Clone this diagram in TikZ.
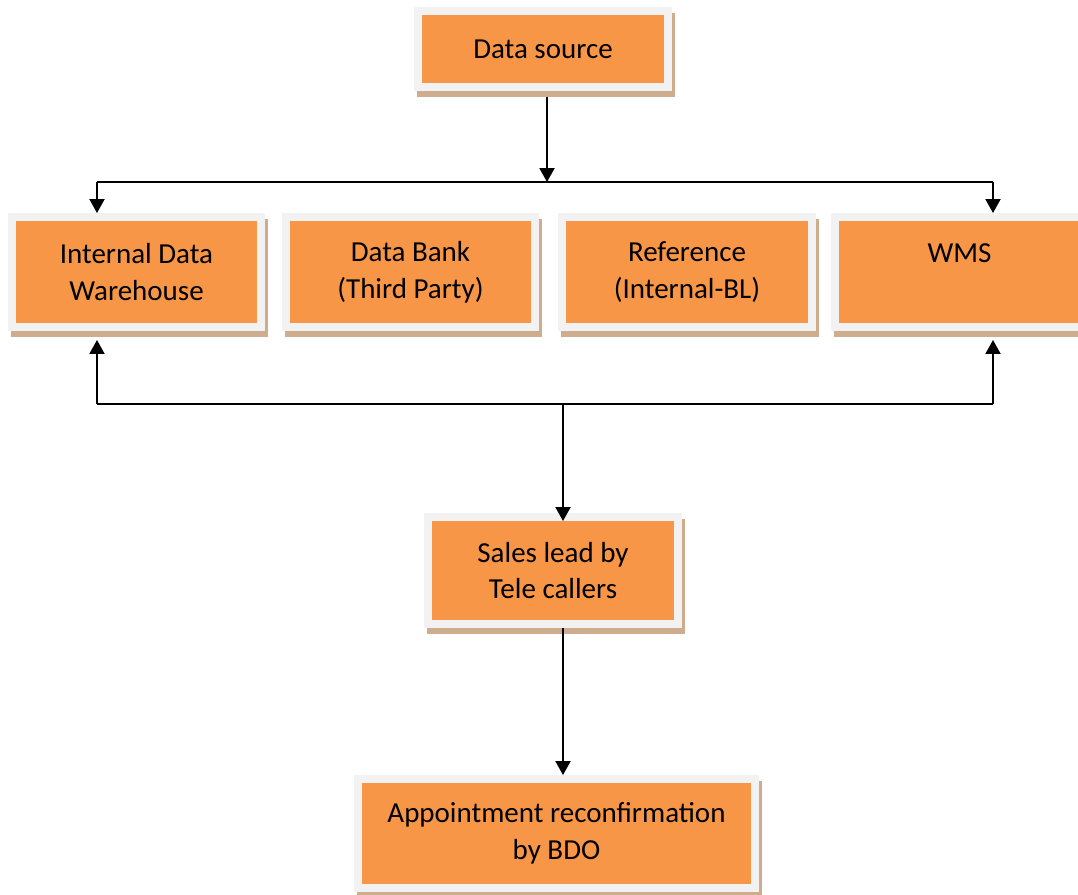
\documentclass[tikz,border=0pt]{standalone}
\usepackage{fontspec}
\setsansfont{Carlito}
\usetikzlibrary{positioning,arrows.meta,calc,shadows}
\definecolor{ldOrange}{RGB}{247,150,70}
\definecolor{ldFrame}{RGB}{242,242,242}
\definecolor{ldShadow}{RGB}{206,172,142}
\tikzset{
    base/.style={font=\sffamily\fontsize{16.5pt}{21pt}\selectfont, align=center},
    stage/.style={base, rectangle, fill=ldOrange, draw=ldFrame, line width=0.16cm,
                  inner sep=0pt, minimum width=5cm, minimum height=2.2cm,
                  drop shadow={opacity=1, fill=ldShadow, draw=ldShadow,
                               shadow xshift=0.06cm, shadow yshift=-0.12cm}},
    wire/.style={line width=0.04cm, color=black},
    flow/.style={wire, -{Triangle[width=0.3cm, length=0.28cm]}}
}

\begin{document}
\begin{tikzpicture}[x=0.02cm, y=-0.02cm]
  \clip (0,0) rectangle (1078,894);
  \fill[white] (0,0) rectangle (1078,894);

  \node[stage, minimum height=1.52cm] (src) at (543,49) {Data source};

  \node[stage] (idw) at (136.5,272) {Internal Data\\Warehouse};
  \node[stage] (bank) at (410.5,272) {Data Bank\\(Third Party)};
  \node[stage] (ref) at (687,272) {Reference\\(Internal-BL)};
  \node[stage] (wms) at (959.5,272) {WMS\\\mbox{}};

  \node[stage, minimum height=2.14cm] (sales) at (553,570.5) {Sales lead by\\Tele callers};
  \node[stage, minimum width=7.94cm, minimum height=2.18cm] (appt) at (556.5,833.5)
       {Appointment reconfirmation\\by BDO};

  % split above the four sources
  \coordinate (tm) at (547,182);
  \coordinate (tl) at (97,182);
  \coordinate (tr) at (993,182);
  \draw[flow] ([yshift=-0.12cm]src.south -| tm) -- (tm);
  \draw[wire] (tl) -- (tr);
  \draw[flow] (tl) -- (tl |- idw.north);
  \draw[flow] (tr) -- (tr |- wms.north);

  % merge below the four sources
  \coordinate (bm) at (563,404);
  \coordinate (bl) at (97,404);
  \coordinate (br) at (993,404);
  \draw[wire] (bl) -- (br);
  \draw[flow, shorten >=0.18cm] (bl) -- (bl |- idw.south);
  \draw[flow, shorten >=0.18cm] (br) -- (br |- wms.south);
  \draw[flow, shorten >=-0.16cm] (bm) -- (bm |- sales.north);
  \draw[flow] (sales.south -| bm) -- (appt.north -| bm);
\end{tikzpicture}
\end{document}
